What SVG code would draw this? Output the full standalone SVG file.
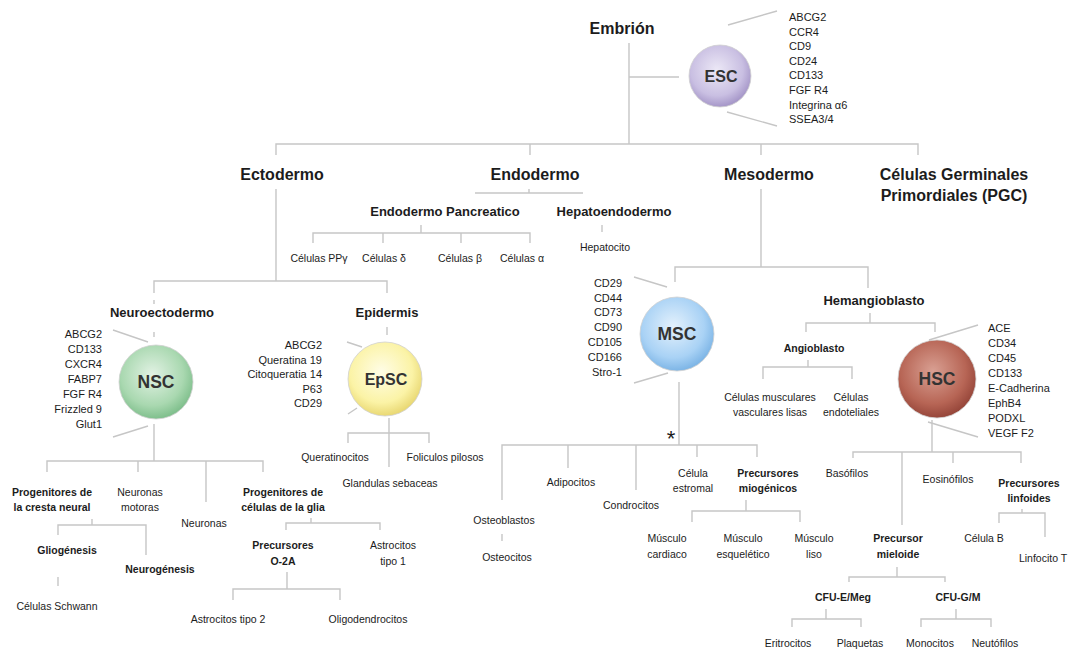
<svg xmlns="http://www.w3.org/2000/svg" width="1071" height="653" viewBox="0 0 1071 653">
<defs>
<radialGradient id="gESC" cx="45%" cy="40%" r="60%"><stop offset="0" stop-color="#ece8f6"/><stop offset="0.7" stop-color="#c9bfe2"/><stop offset="1" stop-color="#a596c8"/></radialGradient>
<radialGradient id="gNSC" cx="45%" cy="40%" r="60%"><stop offset="0" stop-color="#e2f2e4"/><stop offset="0.7" stop-color="#a9d8b0"/><stop offset="1" stop-color="#7fbf8c"/></radialGradient>
<radialGradient id="gEpSC" cx="45%" cy="40%" r="60%"><stop offset="0" stop-color="#fffde6"/><stop offset="0.7" stop-color="#fbf3a6"/><stop offset="1" stop-color="#e9d873"/></radialGradient>
<radialGradient id="gMSC" cx="45%" cy="40%" r="60%"><stop offset="0" stop-color="#e4f1fc"/><stop offset="0.7" stop-color="#a9d2f5"/><stop offset="1" stop-color="#7db5e6"/></radialGradient>
<radialGradient id="gHSC" cx="45%" cy="40%" r="60%"><stop offset="0" stop-color="#d9a093"/><stop offset="0.7" stop-color="#b76555"/><stop offset="1" stop-color="#96463a"/></radialGradient>
</defs>
<style>
text{font-family:"Liberation Sans",Arial,sans-serif;fill:#1c1c1c}
.h{font-size:16px;font-weight:bold;text-anchor:middle}
.m{font-size:13px;font-weight:bold;text-anchor:middle}
.b{font-size:10.5px;font-weight:bold;text-anchor:middle}
.s{font-size:10.5px;text-anchor:middle}
.k{font-size:11px}
.r{text-anchor:end}
.c{font-weight:bold;text-anchor:middle;fill:#333}
.ln line,.ln path{stroke:#c6c6c6;stroke-width:1.4;fill:none}
.cl{stroke:#d0d0d0;stroke-width:0.8}
</style>
<rect width="1071" height="653" fill="#fff"/>
<g id="connectors" class="ln">
<path d="M629 43V144M629 77H679"/>
<path d="M276 155V144H918V155M530 144V155M761 144V155"/>
<path d="M276 189V281M154 293V281H387V293"/>
<path d="M475 193H583M529 189V193"/>
<path d="M421 225V233M313 243V233H530V243M383 233V243M461 233V243"/>
<path d="M602 225V232"/>
<path d="M761 189V267M675 282V267H868V288"/>
<path d="M154 300V304M154 332V337"/>
<path d="M387 327V335"/>
<path d="M154 424V461M47 472V461H263V472M138 461V472M206 461V502"/>
<path d="M92 519V525M58 535V525H146V555M58 577V586"/>
<path d="M311 518V523M286 530V523H380V530"/>
<path d="M287 572V589M233 600V589H340V600"/>
<path d="M389 418V467M348 443V433H429V443"/>
<path d="M679 382V445M502 500V445H757V457M568 445V468M636 445V490M697 445V457M502 534V541"/>
<path d="M746 500V511M692 522V511H800V522"/>
<path d="M870 313V323M806 332V323H935V332"/>
<path d="M808 360V367M763 379V367H852V379"/>
<path d="M932 420V452M853 458V452H1021V463M902 452V525M953 452V463"/>
<path d="M1022 509V513M999 523V513H1045V537"/>
<path d="M897 567V577M849 582V577H945V582"/>
<path d="M826 609V619M792 627V619H861V627"/>
<path d="M956 609V619M921 627V619H991V627"/>
<path d="M728 25L777 11M727 112L777 126"/>
<path d="M113 330L148 342M113 437L148 426"/>
<path d="M347 342L362 347M348 414L357 408"/>
<path d="M634 277L667 287M634 383L668 373"/>
<path d="M929 340L978 325M928 422L978 437"/>
</g>
<g id="embrion"><text class="h" x="622" y="34">Embrión</text></g>
<g id="esc">
<circle cx="720" cy="76" r="31" fill="url(#gESC)" class="cl"/>
<text class="c" x="721" y="82" font-size="16">ESC</text>
<text class="k" x="789" y="21">ABCG2</text><text class="k" x="789" y="36">CCR4</text><text class="k" x="789" y="50">CD9</text><text class="k" x="789" y="65">CD24</text><text class="k" x="789" y="79">CD133</text><text class="k" x="789" y="94">FGF R4</text><text class="k" x="789" y="109">Integrina α6</text><text class="k" x="789" y="123">SSEA3/4</text>
</g>
<g id="ectodermo"><text class="h" x="282" y="180">Ectodermo</text></g>
<g id="endodermo"><text class="h" x="535" y="180">Endodermo</text></g>
<g id="mesodermo"><text class="h" x="769" y="180">Mesodermo</text></g>
<g id="pgc"><text class="h" x="954" y="180">Células Germinales</text><text class="h" x="954" y="201">Primordiales (PGC)</text></g>
<g id="endo-pancreatico"><text class="m" x="445" y="216" font-size="12.5">Endodermo Pancreatico</text></g>
<g id="hepatoendodermo"><text class="m" x="614" y="216">Hepatoendodermo</text></g>
<g id="hepatocito"><text class="s" x="605" y="251">Hepatocito</text></g>
<g id="ppy"><text class="s" x="319" y="262">Células PPγ</text></g>
<g id="delta"><text class="s" x="384" y="262">Células δ</text></g>
<g id="beta"><text class="s" x="460" y="262">Células β</text></g>
<g id="alfa"><text class="s" x="522" y="262">Células α</text></g>
<g id="neuroectodermo"><text class="m" x="162" y="317">Neuroectodermo</text></g>
<g id="nsc">
<circle cx="156" cy="382" r="37" fill="url(#gNSC)" class="cl"/>
<text class="c" x="156" y="388" font-size="17.5">NSC</text>
<text class="k r" x="102" y="338">ABCG2</text><text class="k r" x="102" y="353">CD133</text><text class="k r" x="102" y="368">CXCR4</text><text class="k r" x="102" y="383">FABP7</text><text class="k r" x="102" y="398">FGF R4</text><text class="k r" x="102" y="413">Frizzled 9</text><text class="k r" x="102" y="428">Glut1</text>
</g>
<g id="epidermis"><text class="m" x="387" y="317">Epidermis</text></g>
<g id="epsc">
<circle cx="385" cy="379" r="37" fill="url(#gEpSC)" class="cl"/>
<text class="c" x="386" y="385" font-size="16">EpSC</text>
<text class="k r" x="322" y="349">ABCG2</text><text class="k r" x="322" y="364">Queratina 19</text><text class="k r" x="322" y="378">Citoqueratia 14</text><text class="k r" x="322" y="393">P63</text><text class="k r" x="322" y="407">CD29</text>
</g>
<g id="queratinocitos"><text class="s" x="335" y="461">Queratinocitos</text></g>
<g id="foliculos"><text class="s" x="445" y="461">Foliculos pilosos</text></g>
<g id="glandulas"><text class="s" x="390" y="487">Glandulas sebaceas</text></g>
<g id="cresta"><text class="b" x="52" y="496">Progenitores de</text><text class="b" x="52" y="511">la cresta neural</text></g>
<g id="motoras"><text class="s" x="140" y="496">Neuronas</text><text class="s" x="140" y="511">motoras</text></g>
<g id="neuronas"><text class="s" x="204" y="527">Neuronas</text></g>
<g id="glia"><text class="b" x="283" y="496">Progenitores de</text><text class="b" x="283" y="511">células de la glia</text></g>
<g id="gliogenesis"><text class="b" x="67" y="554">Gliogénesis</text></g>
<g id="neurogenesis"><text class="b" x="160" y="573">Neurogénesis</text></g>
<g id="schwann"><text class="s" x="57" y="610">Células Schwann</text></g>
<g id="o2a"><text class="b" x="283" y="549">Precursores</text><text class="b" x="283" y="565">O-2A</text></g>
<g id="astro1"><text class="s" x="393" y="549">Astrocitos</text><text class="s" x="393" y="565">tipo 1</text></g>
<g id="astro2"><text class="s" x="228" y="623">Astrocitos tipo 2</text></g>
<g id="oligo"><text class="s" x="368" y="623">Oligodendrocitos</text></g>
<g id="msc">
<circle cx="677" cy="334" r="37" fill="url(#gMSC)" class="cl"/>
<text class="c" x="677" y="340" font-size="17.5">MSC</text>
<text class="k r" x="622" y="287">CD29</text><text class="k r" x="622" y="302">CD44</text><text class="k r" x="622" y="316">CD73</text><text class="k r" x="622" y="331">CD90</text><text class="k r" x="622" y="346">CD105</text><text class="k r" x="622" y="361">CD166</text><text class="k r" x="622" y="376">Stro-1</text>
</g>
<g id="asterisco"><text x="671" y="446" font-size="22" text-anchor="middle" fill="#444">*</text></g>
<g id="osteoblastos"><text class="s" x="504" y="524">Osteoblastos</text></g>
<g id="osteocitos"><text class="s" x="507" y="561">Osteocitos</text></g>
<g id="adipocitos"><text class="s" x="571" y="486">Adipocitos</text></g>
<g id="condrocitos"><text class="s" x="631" y="509">Condrocitos</text></g>
<g id="estromal"><text class="s" x="693" y="477">Célula</text><text class="s" x="693" y="492">estromal</text></g>
<g id="miogenicos"><text class="b" x="768" y="477">Precursores</text><text class="b" x="768" y="492">miogénicos</text></g>
<g id="cardiaco"><text class="s" x="667" y="542">Músculo</text><text class="s" x="667" y="558">cardiaco</text></g>
<g id="esqueletico"><text class="s" x="743" y="542">Músculo</text><text class="s" x="743" y="558">esquelético</text></g>
<g id="liso"><text class="s" x="814" y="542">Músculo</text><text class="s" x="814" y="558">liso</text></g>
<g id="hemangioblasto"><text class="m" x="874" y="305">Hemangioblasto</text></g>
<g id="angioblasto"><text class="b" x="814" y="352">Angioblasto</text></g>
<g id="musculares"><text class="s" x="770" y="401">Células musculares</text><text class="s" x="770" y="416">vasculares lisas</text></g>
<g id="endoteliales"><text class="s" x="851" y="401">Células</text><text class="s" x="851" y="416">endoteliales</text></g>
<g id="hsc">
<circle cx="937" cy="379" r="39" fill="url(#gHSC)" class="cl"/>
<text class="c" x="937" y="385" font-size="17.5">HSC</text>
<text class="k" x="988" y="332">ACE</text><text class="k" x="988" y="347">CD34</text><text class="k" x="988" y="362">CD45</text><text class="k" x="988" y="377">CD133</text><text class="k" x="988" y="392">E-Cadherina</text><text class="k" x="988" y="407">EphB4</text><text class="k" x="988" y="422">PODXL</text><text class="k" x="988" y="437">VEGF F2</text>
</g>
<g id="basofilos"><text class="s" x="847" y="477">Basófilos</text></g>
<g id="eosinofilos"><text class="s" x="948" y="483">Eosinófilos</text></g>
<g id="linfoides"><text class="b" x="1029" y="487">Precursores</text><text class="b" x="1029" y="502">linfoides</text></g>
<g id="celulab"><text class="s" x="984" y="542">Célula B</text></g>
<g id="linfocitot"><text class="s" x="1043" y="562">Linfocito T</text></g>
<g id="mieloide"><text class="b" x="898" y="542">Precursor</text><text class="b" x="898" y="558">mieloide</text></g>
<g id="cfu-e"><text class="b" x="843" y="601">CFU-E/Meg</text></g>
<g id="cfu-g"><text class="b" x="958" y="601">CFU-G/M</text></g>
<g id="eritrocitos"><text class="s" x="788" y="647">Eritrocitos</text></g>
<g id="plaquetas"><text class="s" x="860" y="647">Plaquetas</text></g>
<g id="monocitos"><text class="s" x="930" y="647">Monocitos</text></g>
<g id="neutofilos"><text class="s" x="995" y="647">Neutófilos</text></g>
</svg>
